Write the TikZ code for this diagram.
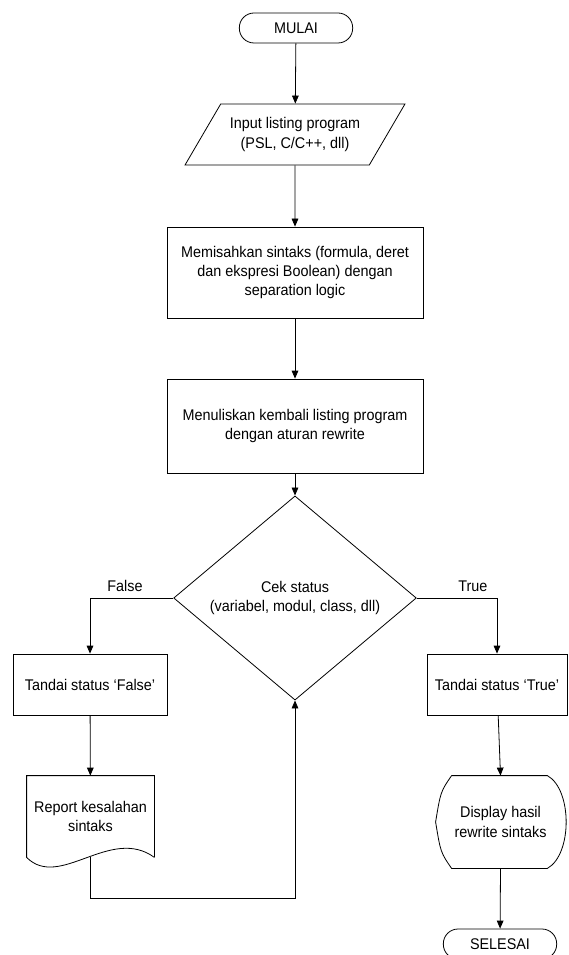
\documentclass[tikz,border=0pt]{standalone}
\usepackage{fontspec}
\setmainfont{Liberation Sans}[FakeStretch=0.93]
\usetikzlibrary{arrows.meta}
\usetikzlibrary{shapes.geometric}
\usetikzlibrary{calc}
\tikzset{>={Triangle[length=6pt,width=5pt]}}
\tikzset{
  terminal/.style={draw, rounded corners=11pt, minimum width=85pt, minimum height=22.5pt},
  io/.style={draw, trapezium, trapezium left angle=52, trapezium right angle=128, trapezium stretches=true, minimum width=165pt, minimum height=45.75pt, align=center},
  proses/.style={draw, rectangle, align=center},
  keputusan/.style={draw, diamond, inner sep=0pt, minimum width=182pt, minimum height=99pt, align=center},
  bentuk/.style={rectangle, align=center, inner sep=0pt},
}

\begin{document}
\begin{tikzpicture}[x=0.75pt, y=-0.75pt, line width=0.6pt, font=\fontsize{11.6}{14.6}\selectfont]
      \useasboundingbox (0, 0) rectangle (568, 955);
      % nodes
      \node[terminal] (mulai) at (296, 28) {MULAI};
      \node[io] (input) at (295, 134.5) {Input listing program\\(PSL, C/C++, dll)};
      \node[proses, minimum width=192pt, minimum height=68.25pt] (pisah) at (295, 272.5)
        {Memisahkan sintaks (formula, deret\\dan ekspresi Boolean) dengan\\separation logic};
      \node[proses, minimum width=192pt, minimum height=70.5pt] (tulis) at (295, 426)
        {Menuliskan kembali listing program\\dengan aturan rewrite};
      \node[keputusan] (cek) at (295, 598) {Cek status\\(variabel, modul, class, dll)};
      \node[proses, minimum width=115.5pt, minimum height=45.75pt] (tfalse) at (90, 684.5) {Tandai status `False'};
      \node[bentuk, minimum width=95.25pt, minimum height=60.75pt] (report) at (90.5, 816.5) {Report kesalahan\\sintaks};
      \node[proses, minimum width=105pt, minimum height=45.75pt] (ttrue) at (497, 684.5) {Tandai status `True'};
      \node[bentuk, minimum width=96.75pt, minimum height=69pt] (tampil) at (500.5, 822) {Display hasil\\rewrite sintaks};
      \node[terminal] (selesai) at (500, 944) {SELESAI};
      % document and display outlines
      \draw (report.south east) -- (report.north east) -- (report.north west) -- (report.south west)
        .. controls ($(report.south west)+(33,33)$) and ($(report.south east)+(-44,-32)$) .. (report.south east);
      \draw ($(tampil.north west)+(16,0)$) -- ($(tampil.north east)+(-18,0)$)
        .. controls ($(tampil.north east)+(7,14)$) and ($(tampil.south east)+(7,-14)$) .. ($(tampil.south east)+(-18,0)$)
        -- ($(tampil.south west)+(16,0)$)
        .. controls ($(tampil.south west)+(5,-16)$) .. (tampil.west)
        .. controls ($(tampil.north west)+(5,16)$) .. ($(tampil.north west)+(16,0)$);
      % arrows
      \draw[->] (mulai) -- (input);
      \draw[->] (input) -- (pisah);
      \draw[->] (pisah) -- (tulis);
      \draw[->] (tulis) -- (cek);
      \draw[->] (cek.west) -| node[above=1pt, pos=0.29] (lfalse) {False} (tfalse.north);
      \draw[->] (cek.east) -| node[above=1pt, pos=0.35] (ltrue) {True} (ttrue.north);
      \draw[->] (tfalse) -- (report);
      \draw[->] (report.south) -- ++(0, 41) -| (cek.south);
      \draw[->] (ttrue) -- (tampil.north);
      \draw[->] (tampil.south) -- (selesai);
    \end{tikzpicture}
\end{document}
